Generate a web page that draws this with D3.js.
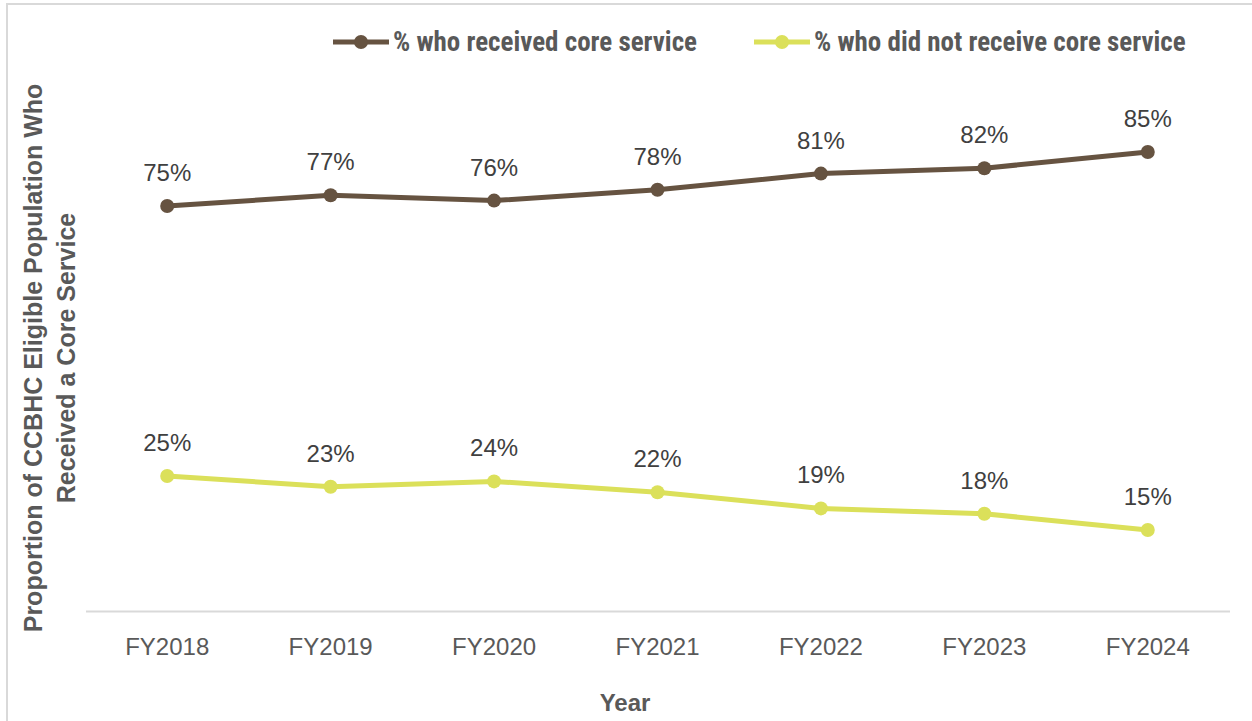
<!DOCTYPE html>
<html>
<head>
<meta charset="utf-8">
<script src="https://cdn.jsdelivr.net/npm/d3@7"></script>
<style>
  html, body { margin: 0; padding: 0; background: #fff; }
  svg { display: block; }
</style>
</head>
<body>
<svg id="chart" width="1252" height="721"></svg>
<script>
// Fiscal years on the x axis
const years = ["FY2018", "FY2019", "FY2020", "FY2021", "FY2022", "FY2023", "FY2024"];
// Share of the eligible population (percent)
const received = [75, 77, 76, 78, 81, 82, 85];
const notReceived = [25, 23, 24, 22, 19, 18, 15];
const seriesNames = ["% who received core service", "% who did not receive core service"];
const seriesColors = ["#665341", "#dbe05a"];

const svg = d3.select("#chart");
const W = 1252, H = 721;

// outer chart frame
svg.append("rect")
  .attr("x", 7).attr("y", 4)
  .attr("width", W + 10).attr("height", H + 10)
  .attr("fill", "#fff")
  .attr("stroke", "#d9d9d9").attr("stroke-width", 2);

const plot = { left: 85.5, right: 1229.5, top: 71, bottom: 611 };

const x = d3.scaleBand().domain(years).range([plot.left, plot.right]);
const y = d3.scaleLinear().domain([0, 100]).range([plot.bottom, plot.top]);
const cx = d => x(d) + x.bandwidth() / 2;

// category axis
const xAxis = d3.axisBottom(x).tickSize(0).tickPadding(27);
const gx = svg.append("g")
  .attr("transform", `translate(0,${plot.bottom})`)
  .call(xAxis);
gx.select(".domain").attr("stroke", "#d9d9d9").attr("stroke-width", 2);
gx.selectAll("text")
  .attr("font-family", "'Liberation Sans', Arial, sans-serif")
  .attr("font-size", 24)
  .attr("fill", "#595959");

const series = [received, notReceived];
const line = d3.line().x((d, i) => cx(years[i])).y(d => y(d));

series.forEach((vals, si) => {
  const g = svg.append("g");
  g.append("path")
    .datum(vals)
    .attr("d", line)
    .attr("fill", "none")
    .attr("stroke", seriesColors[si])
    .attr("stroke-width", 5)
    .attr("stroke-linejoin", "round");
  g.selectAll("circle")
    .data(vals)
    .join("circle")
    .attr("cx", (d, i) => cx(years[i]))
    .attr("cy", d => y(d))
    .attr("r", 7)
    .attr("fill", seriesColors[si]);
  g.selectAll("text")
    .data(vals)
    .join("text")
    .attr("x", (d, i) => cx(years[i]))
    .attr("y", d => y(d) - 25)
    .attr("text-anchor", "middle")
    .attr("font-family", "'Liberation Sans', Arial, sans-serif")
    .attr("font-size", 24)
    .attr("fill", "#404040")
    .text(d => d + "%");
});

// legend
const legendX = [333, 754];
series.forEach((vals, si) => {
  const lg = svg.append("g").attr("transform", `translate(${legendX[si]},42)`);
  lg.append("line")
    .attr("x1", 0).attr("x2", 56).attr("y1", 0).attr("y2", 0)
    .attr("stroke", seriesColors[si]).attr("stroke-width", 5);
  lg.append("circle").attr("cx", 28).attr("cy", 0).attr("r", 7)
    .attr("fill", seriesColors[si]);
  lg.append("text")
    .attr("x", 60).attr("y", 0).attr("dy", "0.35em")
    .attr("font-family", "'Liberation Sans Narrow', 'Roboto Condensed', Arial, sans-serif")
    .attr("font-weight", "bold")
    .attr("font-size", 27)
    .attr("fill", "#595959")
    .text(seriesNames[si]);
});

// axis titles
const yTitle = svg.append("text")
  .attr("transform", `translate(42,358) rotate(-90)`)
  .attr("text-anchor", "middle")
  .attr("font-family", "'Liberation Sans', Arial, sans-serif")
  .attr("font-weight", "bold")
  .attr("font-size", 25)
  .attr("fill", "#595959");
yTitle.append("tspan").attr("x", 0).attr("dy", 0).text("Proportion of CCBHC Eligible Population Who");
yTitle.append("tspan").attr("x", 0).attr("dy", 33).text("Received a Core Service");

svg.append("text")
  .attr("x", 625).attr("y", 711)
  .attr("text-anchor", "middle")
  .attr("font-family", "'Liberation Sans', Arial, sans-serif")
  .attr("font-weight", "bold")
  .attr("font-size", 24)
  .attr("fill", "#595959")
  .text("Year");
</script>
</body>
</html>
